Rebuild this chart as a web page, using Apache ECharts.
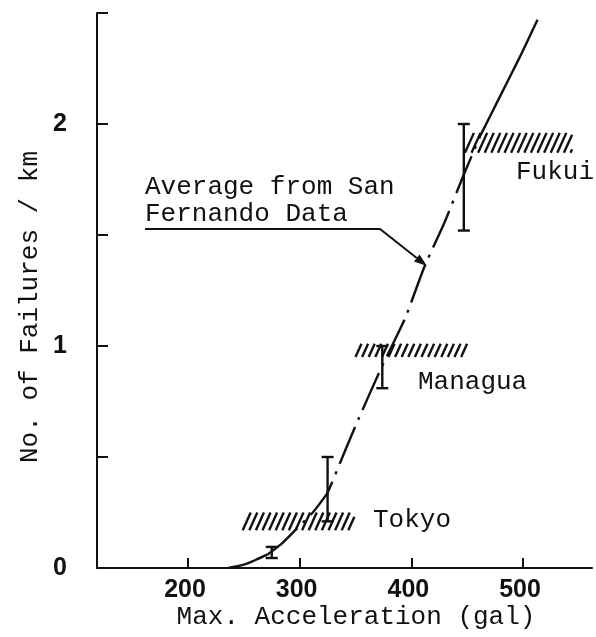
<!DOCTYPE html>
<html>
<head>
<meta charset="utf-8">
<script src="https://cdn.jsdelivr.net/npm/echarts@6/dist/echarts.min.js"></script>
<style>
html,body{margin:0;padding:0;background:#fff;}
#chart{width:596px;height:637px;}
</style>
</head>
<body>
<div id="chart"></div>
<script>
// ---- data ----
const xTicks = [200, 300, 400, 500];
const yTicks = [0, 1, 2];
const curveGal = [236, 250, 260, 271, 284, 298, 310, 318, 325, 340, 350, 372, 394, 412, 430, 446, 462, 480, 497, 513];
const curveVal = [0, 0.015, 0.035, 0.06, 0.11, 0.18, 0.24, 0.29, 0.34, 0.52, 0.64, 0.89, 1.12, 1.36, 1.56, 1.76, 1.95, 2.13, 2.30, 2.47];
const dashStart = 271, dashEnd = 462;
const errX = [275, 325, 374, 447];
const errLow = [0.045, 0.21, 0.81, 1.52];
const errHigh = [0.095, 0.5, 1.0, 2.0];
const bandNames = ['Tokyo', 'Managua', 'Fukui'];
const bandX0 = [249, 350, 448];
const bandX1 = [349, 450, 544];
const bandY0 = [0.17, 0.95, 1.87];
const bandY1 = [0.25, 1.01, 1.96];
const annotationText = ['Average from San', 'Fernando Data'];
const arrowTip = [414, 1.36];

const MONO = '"Liberation Mono", "DejaVu Sans Mono", monospace';
const SANS = '"Liberation Sans", Arial, sans-serif';

const pts = curveGal.map((g, i) => [g, curveVal[i]]);
const solidLow = pts.filter(p => p[0] <= dashStart);
const dashed = pts.filter(p => p[0] >= dashStart && p[0] <= dashEnd);
const solidHigh = pts.filter(p => p[0] >= dashEnd);

const errData = errX.map((x, i) => [x, errLow[i], errHigh[i]]);
const bandData = bandX0.map((x, i) => [x, bandX1[i], bandY0[i], bandY1[i]]);

const chart = echarts.init(document.getElementById('chart'), null, {renderer: 'canvas'});

const lineStyleBase = {color: '#111', width: 2.4};

const option = {
  animation: false,
  backgroundColor: '#fff',
  grid: {left: 97, right: 4, top: 13, bottom: 69},
  xAxis: {
    type: 'value', min: 118.5, max: 561.8,
    axisLine: {show: true, onZero: false, lineStyle: {color: '#111', width: 2}},
    splitLine: {show: false},
    axisTick: {show: true, inside: true, length: 10, lineStyle: {color: '#111', width: 2}, customValues: xTicks},
    axisLabel: {show: true, customValues: xTicks, color: '#111', fontFamily: SANS, fontSize: 25, fontWeight: 'bold', margin: 10, padding: [0, 6, 0, 0]}
  },
  yAxis: {
    type: 'value', min: 0, max: 2.5, interval: 0.5,
    axisLine: {show: true, onZero: false, lineStyle: {color: '#111', width: 2}},
    splitLine: {show: false},
    axisTick: {show: true, inside: true, length: 11, lineStyle: {color: '#111', width: 2}},
    axisLabel: {show: true, customValues: yTicks, color: '#111', fontFamily: SANS, fontSize: 25, fontWeight: 'bold', margin: 30}
  },
  series: [
    {type: 'line', data: solidLow, showSymbol: false, smooth: 0.3, lineStyle: lineStyleBase, z: 5},
    {type: 'line', data: dashed, showSymbol: false, smooth: 0.2, lineStyle: Object.assign({}, lineStyleBase, {type: [40, 8, 3, 8]}), z: 5},
    {type: 'line', data: solidHigh, showSymbol: false, smooth: 0.2, lineStyle: lineStyleBase, z: 5},
    {
      type: 'custom', data: errData, z: 6,
      renderItem: function (params, api) {
        const top = api.coord([api.value(0), api.value(2)]);
        const bot = api.coord([api.value(0), api.value(1)]);
        const hw = 6;
        const st = {stroke: '#111', lineWidth: 2.4};
        return {type: 'group', children: [
          {type: 'line', shape: {x1: top[0], y1: top[1], x2: bot[0], y2: bot[1]}, style: st},
          {type: 'line', shape: {x1: top[0] - hw, y1: top[1], x2: top[0] + hw, y2: top[1]}, style: st},
          {type: 'line', shape: {x1: bot[0] - hw, y1: bot[1], x2: bot[0] + hw, y2: bot[1]}, style: st}
        ]};
      }
    },
    {
      type: 'custom', data: bandData, z: 4,
      renderItem: function (params, api) {
        const p0 = api.coord([api.value(0), api.value(2)]);
        const p1 = api.coord([api.value(1), api.value(3)]);
        const left = p0[0], right = p1[0], bottom = p0[1], top = p1[1];
        const h = bottom - top;
        const dx = h * 0.45;
        const step = 6.6;
        const children = [];
        for (let sx = left; sx < right - 1; sx += step) {
          let x1 = sx, y1 = bottom, x2 = sx + dx, y2 = top;
          if (x2 > right) { const t = (right - x1) / dx; x2 = right; y2 = bottom - h * t; }
          children.push({type: 'line', shape: {x1: x1, y1: y1, x2: x2, y2: y2}, style: {stroke: '#111', lineWidth: 2.4}});
        }
        return {type: 'group', children: children};
      }
    }
  ]
};
chart.setOption(option);

// annotations
const tip = chart.convertToPixel({gridIndex: 0}, arrowTip);
const elbow = [380, 229];
const vx = tip[0] - elbow[0], vy = tip[1] - elbow[1];
const len = Math.sqrt(vx * vx + vy * vy);
const ux = vx / len, uy = vy / len;
const ah = 13, aw = 4.5;
const base = [tip[0] - ux * ah, tip[1] - uy * ah];
const textStyle = (t, x, y) => ({type: 'text', style: {text: t, x: x, y: y, font: '26px ' + MONO, fill: '#111', verticalAlign: 'middle'}});

chart.setOption({
  graphic: [
    textStyle(annotationText[0], 145, 187),
    textStyle(annotationText[1], 145, 214),
    {type: 'polyline', shape: {points: [[145, 229], elbow, base]}, style: {stroke: '#111', lineWidth: 2, fill: null}},
    {type: 'polygon', shape: {points: [tip, [base[0] - uy * aw, base[1] + ux * aw], [base[0] + uy * aw, base[1] - ux * aw]]}, style: {fill: '#111'}},
    textStyle(bandNames[2], 516, 172),
    textStyle(bandNames[1], 418, 382),
    textStyle(bandNames[0], 373, 520),
    {type: 'text', style: {text: 'Max. Acceleration (gal)', x: 356, y: 617, font: '26px ' + MONO, fill: '#111', align: 'center', verticalAlign: 'middle'}},
    {type: 'text', rotation: Math.PI / 2, x: 30, y: 307, style: {text: 'No. of Failures / km', x: 0, y: 0, font: '26px ' + MONO, fill: '#111', align: 'center', verticalAlign: 'middle'}}
  ]
});
</script>
</body>
</html>
